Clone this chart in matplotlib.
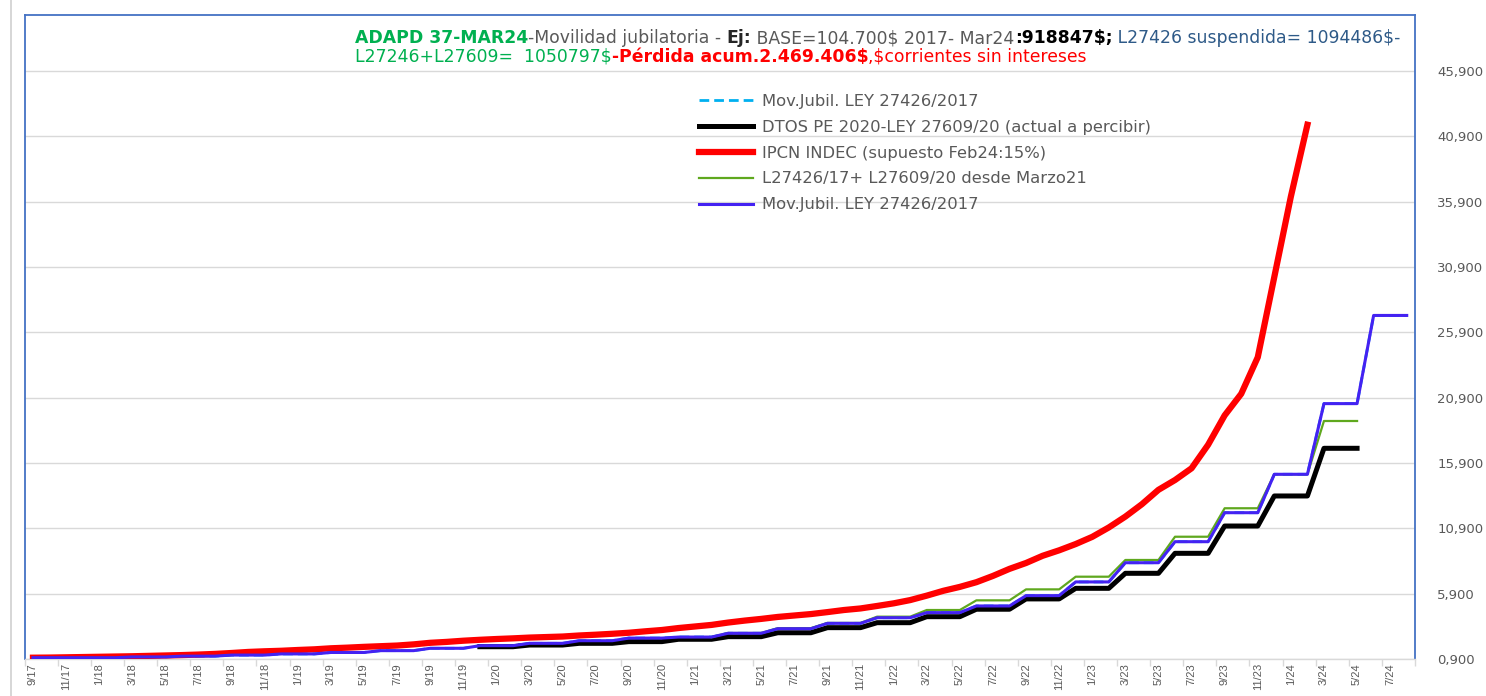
import matplotlib
matplotlib.use('Agg')
import matplotlib.pyplot as plt
from matplotlib.lines import Line2D
from matplotlib.ticker import FixedLocator, FuncFormatter

# ---------------- data ----------------
month_labels = ['9/17', '11/17', '1/18', '3/18', '5/18', '7/18', '9/18', '11/18',
                '1/19', '3/19', '5/19', '7/19', '9/19', '11/19', '1/20', '3/20',
                '5/20', '7/20', '9/20', '11/20', '1/21', '3/21', '5/21', '7/21',
                '9/21', '11/21', '1/22', '3/22', '5/22', '7/22', '9/22', '11/22',
                '1/23', '3/23', '5/23', '7/23', '9/23', '11/23', '1/24', '3/24',
                '5/24', '7/24']
n_months = 84          # 9/17 .. 8/24

# Mov.Jubil. LEY 27426/2017 (9/17 .. 8/24)
ley27426 = [1.00, 1.00, 1.00, 1.00, 1.00, 1.00,
            1.06, 1.06, 1.06, 1.12, 1.12, 1.12,
            1.20, 1.20, 1.20, 1.29, 1.29, 1.29,
            1.40, 1.40, 1.40, 1.54, 1.54, 1.54,
            1.72, 1.72, 1.72, 1.92, 1.92, 1.92,
            2.10, 2.10, 2.10, 2.30, 2.30, 2.30,
            2.50, 2.50, 2.50, 2.58, 2.58, 2.58,
            2.87, 2.87, 2.87, 3.22, 3.22, 3.22,
            3.63, 3.63, 3.63, 4.06, 4.06, 4.06,
            4.45, 4.45, 4.45, 4.96, 4.96, 4.96,
            5.75, 5.75, 5.75, 6.80, 6.80, 6.80,
            8.27, 8.27, 8.27, 9.88, 9.88, 9.88,
            12.10, 12.10, 12.10, 15.04, 15.04, 15.04,
            20.45, 20.45, 20.45, 27.20, 27.20, 27.20]

# DTOS PE 2020-LEY 27609/20 (12/19 .. 5/24)
dtos_start = 27
dtos_27609 = [1.84, 1.84, 1.84, 1.97, 1.97, 1.97,
              2.10, 2.10, 2.10, 2.23, 2.23, 2.23,
              2.41, 2.41, 2.41, 2.61, 2.61, 2.61,
              2.91, 2.91, 2.91, 3.30, 3.30, 3.30,
              3.68, 3.68, 3.68, 4.14, 4.14, 4.14,
              4.71, 4.71, 4.71, 5.50, 5.50, 5.50,
              6.31, 6.31, 6.31, 7.46, 7.46, 7.46,
              8.99, 8.99, 8.99, 11.08, 11.08, 11.08,
              13.38, 13.38, 13.38, 17.03, 17.03, 17.03]

# IPCN INDEC (9/17 .. 2/24)
ipcn = [1.00, 1.01, 1.03, 1.05, 1.07, 1.09, 1.11, 1.14, 1.17, 1.20,
        1.24, 1.29, 1.36, 1.44, 1.49, 1.53, 1.59, 1.64, 1.72, 1.77,
        1.83, 1.88, 1.93, 2.02, 2.14, 2.21, 2.30, 2.37, 2.43, 2.48,
        2.54, 2.58, 2.62, 2.70, 2.76, 2.83, 2.91, 3.02, 3.12, 3.27,
        3.39, 3.51, 3.69, 3.84, 3.97, 4.12, 4.23, 4.34, 4.49, 4.65,
        4.77, 4.96, 5.16, 5.41, 5.75, 6.12, 6.42, 6.78, 7.26, 7.80,
        8.25, 8.80, 9.22, 9.70, 10.25, 10.97, 11.80, 12.75, 13.85, 14.60,
        15.50, 17.30, 19.55, 21.20, 24.00, 30.15, 36.30, 41.80]

# L27426/17 + L27609/20 desde Marzo21 (2/21 .. 5/24)
mix_start = 41
mix_27426_27609 = [2.58,
                   2.89, 2.89, 2.89, 3.26, 3.26, 3.26,
                   3.66, 3.66, 3.66, 4.14, 4.14, 4.14,
                   4.65, 4.65, 4.65, 5.39, 5.39, 5.39,
                   6.23, 6.23, 6.23, 7.20, 7.20, 7.20,
                   8.48, 8.48, 8.48, 10.26, 10.26, 10.26,
                   12.44, 12.44, 12.44, 15.04, 15.04, 15.04,
                   19.12, 19.12, 19.12]

y_ticks = [0.9, 5.9, 10.9, 15.9, 20.9, 25.9, 30.9, 35.9, 40.9, 45.9]

legend_labels = ['Mov.Jubil. LEY 27426/2017',
                 'DTOS PE 2020-LEY 27609/20 (actual a percibir)',
                 'IPCN INDEC (supuesto Feb24:15%)',
                 'L27426/17+ L27609/20 desde Marzo21',
                 'Mov.Jubil. LEY 27426/2017']

title_line1 = [("ADAPD 37-MAR24", '#00B050', 'bold'),
               ("-Movilidad jubilatoria - ", '#595959', 'normal'),
               ("Ej:", '#262626', 'bold'),
               (" BASE=104.700$ 2017- Mar24", '#595959', 'normal'),
               (":918847$;", '#000000', 'bold'),
               (" L27426 suspendida= 1094486$-", '#2E5A88', 'normal')]
title_line2 = [("L27246+L27609=  1050797$", '#00B050', 'normal'),
               ("-Pérdida acum.2.469.406$", '#FF0000', 'bold'),
               (",$corrientes sin intereses", '#FF0000', 'normal')]

# ---------------- styles ----------------
C_CYAN = '#00B0F0'
C_BLACK = '#000000'
C_RED = '#FF0000'
C_GREEN = '#5FA81E'
C_PURPLE = '#4422F2'
C_BLUE_AX = '#4472C4'
C_GRID = '#D9D9D9'
C_TXT = '#595959'

W, H = 1486, 696
fig = plt.figure(figsize=(W / 100, H / 100), dpi=100)
fig.patch.set_facecolor('white')

x_left, x_right = 24.7, 1415.0
y_top, y_bot = 15.0, 659.0
ax = fig.add_axes([x_left / W, 1 - y_bot / H, (x_right - x_left) / W, (y_bot - y_top) / H])
ax.set_facecolor('white')

xs_all = list(range(n_months))
dash = (0, (3.5, 1.8))
ax.plot(xs_all, ley27426, color=C_CYAN, lw=2.0, ls=dash, zorder=2)
ax.plot(list(range(dtos_start, dtos_start + len(dtos_27609))), dtos_27609,
        color=C_BLACK, lw=3.6, zorder=3, solid_joinstyle='round')
ax.plot(list(range(len(ipcn))), ipcn, color=C_RED, lw=4.5, zorder=4, solid_joinstyle='round')
ax.plot(list(range(mix_start, mix_start + len(mix_27426_27609))), mix_27426_27609,
        color=C_GREEN, lw=1.6, zorder=5, solid_joinstyle='round')
ax.plot(xs_all, ley27426, color=C_PURPLE, lw=2.2, zorder=6, solid_joinstyle='round')

ax.set_xlim(-0.5, n_months - 0.5)
ax.set_ylim(0.9, 50.2)

# y axis on the right
ax.yaxis.tick_right()
ax.yaxis.set_major_locator(FixedLocator(y_ticks))
ax.yaxis.set_major_formatter(FuncFormatter(lambda v, p: f"{v:.3f}".replace('.', ',')))
ax.tick_params(axis='y', length=0, pad=16, labelsize=9.5, labelcolor=C_TXT)
for lab in ax.get_yticklabels():
    lab.set_family('DejaVu Sans')
ax.grid(axis='y', color=C_GRID, lw=1.0, zorder=0)
ax.set_axisbelow(True)

# x axis categories
ax.xaxis.set_major_locator(FixedLocator(list(range(0, 2 * len(month_labels), 2))))
ax.set_xticklabels(month_labels, rotation=90, ha='center', va='top',
                   family='Liberation Sans', fontsize=8, color=C_TXT)
ax.tick_params(axis='x', which='major', length=0, pad=3)
ax.xaxis.set_minor_locator(FixedLocator([i - 0.5 for i in range(0, n_months + 1, 2)]))
ax.tick_params(axis='x', which='minor', length=5, width=1, color=C_GRID, direction='out')

for side in ('left', 'right', 'top'):
    ax.spines[side].set_color(C_BLUE_AX)
    ax.spines[side].set_linewidth(1.3)
ax.spines['bottom'].set_color(C_GRID)
ax.spines['bottom'].set_linewidth(1.0)

# outer chart border (left edge)
fig.add_artist(Line2D([11 / W, 11 / W], [0, 1], transform=fig.transFigure,
                      color='#D0D0D0', lw=1.2))

# legend
handles = [Line2D([], [], color=C_CYAN, lw=2.0, ls=dash),
           Line2D([], [], color=C_BLACK, lw=3.6),
           Line2D([], [], color=C_RED, lw=4.5),
           Line2D([], [], color=C_GREEN, lw=1.6),
           Line2D([], [], color=C_PURPLE, lw=2.2)]
leg_fs = 11.8
leg = ax.legend(handles, legend_labels, loc='upper left',
                bbox_to_anchor=(699 / W, 1 - 94 / H), bbox_transform=fig.transFigure,
                frameon=False, handlelength=3.3, handletextpad=0.55,
                labelspacing=0.66, borderpad=0, borderaxespad=0, labelcolor=C_TXT,
                prop={'family': 'DejaVu Sans', 'size': leg_fs})

# multi-coloured title text
renderer = fig.canvas.get_renderer()


def piece_width(s, size, weight):
    t1 = fig.text(0, 0, "|" + s + "|", fontsize=size, fontweight=weight,
                  family='DejaVu Sans', parse_math=False)
    t2 = fig.text(0, 0, "||", fontsize=size, fontweight=weight,
                  family='DejaVu Sans', parse_math=False)
    w = t1.get_window_extent(renderer).width - t2.get_window_extent(renderer).width
    t1.remove()
    t2.remove()
    return w


base = 10.0
w1 = sum(piece_width(s, base, wt) for s, c, wt in title_line1)
title_fs = 0.93 * base * (1478 - 355) / w1


def place_line(pieces, x_px, y_px, size):
    x = x_px
    for s, c, wt in pieces:
        fig.text(x / W, 1 - y_px / H, s, color=c, fontweight=wt, fontsize=size,
                 family='DejaVu Sans', ha='left', va='baseline', parse_math=False)
        x += piece_width(s, size, wt)


place_line(title_line1, 355, 43, title_fs)
place_line(title_line2, 355, 62, title_fs)

fig.savefig('out.png', dpi=100, facecolor='white')
